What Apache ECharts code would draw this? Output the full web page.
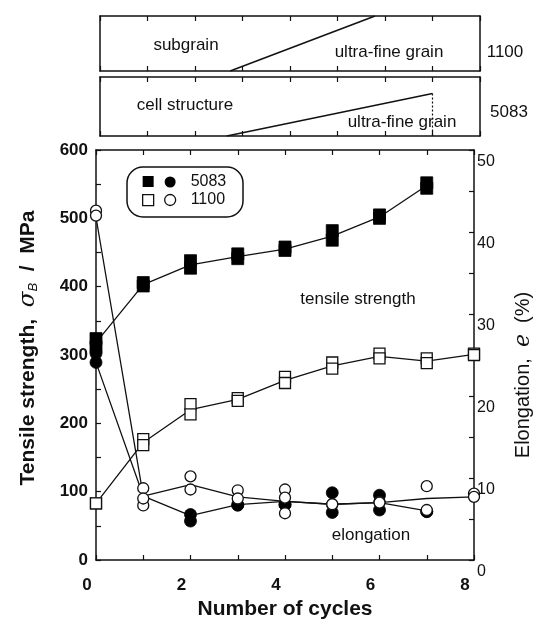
<!DOCTYPE html>
<html><head><meta charset="utf-8">
<script src="https://cdn.jsdelivr.net/npm/echarts@6/dist/echarts.min.js"></script>
<style>html,body{margin:0;padding:0;background:#fff}#c{width:542px;height:626px}</style>
</head><body><div id="c"></div>
<script>
// ---- data ----
const cycles1100 = [0, 1, 2, 3, 4, 5, 6, 7, 8];
const cycles5083 = [0, 1, 2, 3, 4, 5, 6, 7];
// tensile strength, MPa (line = drawn curve, A/B = the two specimens)
const ts5083Line = [318, 403, 432, 444, 455, 474, 502, 548];
const ts5083A = [324, 406, 438, 448, 458, 482, 505, 552];
const ts5083B = [312, 401, 427, 441, 453, 468, 500, 544];
const ts1100Line = [83, 172, 220, 235, 263, 284, 298, 291, 301];
const ts1100A = [83, 177, 228, 237, 268, 289, 302, 295, 302];
const ts1100B = [83, 168, 213, 233, 259, 280, 295, 288, 300];
// elongation, %
const el5083Line = [24.1, 7.8, 5.4, 6.75, 7.15, 6.8, 7.0, 6.0];
const el5083A = [24.1, null, 5.55, 6.7, 6.75, 8.2, 7.9, 5.9];
const el5083B = [25.2, null, 4.75, 6.7, 6.75, 5.8, 6.1, 5.9];
const el1100Line = [41.8, 7.8, 9.2, 7.7, 7.15, 6.8, 7.0, 7.5, 7.7];
const el1100A = [42.6, 8.75, 10.2, 8.5, 8.6, 6.8, 7.1, 9.0, 8.1];
const el1100B = [42.0, 6.65, 8.6, 7.5, 7.6, 6.8, 7.0, 6.1, 7.7];
const el1100C = [null, 7.5, null, null, 5.7, null, null, null, null];
// microstructure transition (top panels), x = cycles, y = fraction of panel height
const trans1100X = [2.74, 5.79];
const trans1100Y = [0, 1];
const trans5083X = [2.67, 7.0];
const trans5083Y = [0, 0.72];
const bound5083X = [7.0, 7.0];
const bound5083Y = [0.72, 0];
// tick labels
const xTickLabels = [0, 2, 4, 6, 8];
const leftTickLabels = [0, 100, 200, 300, 400, 500, 600];
const rightTickLabels = [0, 10, 20, 30, 40, 50];

// ---- chart ----
const FONT = '"Liberation Sans", Arial, Helvetica, sans-serif';
const INK = '#111';
const FILL = '#000';
const pairs = (xs, ys) => xs.map((x, i) => (ys[i] == null ? null : [x, ys[i]])).filter(Boolean);

function lineS(name, xs, ys, yIdx) {
  return { name, type: 'line', xAxisIndex: 0, yAxisIndex: yIdx, data: pairs(xs, ys),
    symbol: 'none', lineStyle: { color: INK, width: 1.3, opacity: 1 }, itemStyle: { color: INK }, z: 2, silent: true };
}
function markS(name, xs, ys, yIdx, symbol, filled, size, z) {
  return { name, type: 'scatter', xAxisIndex: 0, yAxisIndex: yIdx, data: pairs(xs, ys),
    symbol, symbolSize: size, z,
    itemStyle: filled ? { color: FILL, borderColor: FILL, borderWidth: 0.8, opacity: 1 }
                      : { color: '#fff', borderColor: INK, borderWidth: 1.3, opacity: 1 },
    emphasis: { disabled: true }, silent: true };
}
function panelLine(xs, ys, xIdx, yIdx, dashed) {
  return { type: 'line', xAxisIndex: xIdx, yAxisIndex: yIdx, data: pairs(xs, ys), symbol: 'none',
    lineStyle: { color: INK, width: dashed ? 1.2 : 1.5, type: dashed ? [2, 2] : 'solid' }, silent: true };
}

const tickOnly = (pos, gridIndex) => ({
  type: 'value', gridIndex, position: pos, min: 0, max: 8, interval: 1,
  axisLine: { show: true, onZero: false, lineStyle: { color: INK, width: 1.5 } },
  axisTick: { show: true, inside: true, length: 5, lineStyle: { color: INK, width: 1.2 } },
  axisLabel: { show: false }, splitLine: { show: false }
});
const edgeY = (pos, gridIndex) => ({
  type: 'value', gridIndex, position: pos, min: 0, max: 1,
  axisLine: { show: true, onZero: false, lineStyle: { color: INK, width: 1.5 } },
  axisTick: { show: false }, axisLabel: { show: false }, splitLine: { show: false }
});

const option = {
  animation: false,
  backgroundColor: '#fff',
  textStyle: { fontFamily: FONT },
  grid: [
    { left: 96, right: 64, top: 150, bottom: 66 },
    { left: 100, right: 62, top: 16, height: 55 },
    { left: 100, right: 62, top: 77, height: 59 }
  ],
  xAxis: [
    { type: 'value', gridIndex: 0, position: 'bottom', min: 0, max: 8, interval: 1,
      name: 'Number of cycles', nameLocation: 'middle', nameGap: 36,
      nameTextStyle: { fontSize: 21, fontWeight: 'bold', color: INK, fontFamily: FONT },
      axisLine: { show: true, onZero: false, lineStyle: { color: INK, width: 1.5 } },
      axisTick: { show: true, inside: true, length: 5, lineStyle: { color: INK, width: 1.2 } },
      axisLabel: { fontSize: 17, fontWeight: 'bold', color: INK, margin: 17, padding: [0, 18, 0, 0],
        formatter: v => (xTickLabels.includes(v) ? String(v) : '') },
      splitLine: { show: false } },
    tickOnly('top', 0),
    tickOnly('bottom', 1), tickOnly('top', 1),
    tickOnly('bottom', 2), tickOnly('top', 2)
  ],
  yAxis: [
    { type: 'value', gridIndex: 0, position: 'left', min: 0, max: 600, interval: 50,
      name: '{n|Tensile strength,  }{i|σ}{s|B}{n|  /  MPa}', nameLocation: 'middle', nameGap: 56, nameRotate: 90,
      nameTextStyle: { color: INK, padding: [0, 0, 0, 14], rich: {
        n: { fontSize: 21, fontWeight: 'bold', fontFamily: FONT, color: INK },
        i: { fontSize: 23, fontStyle: 'italic', fontFamily: '"DejaVu Serif", serif', color: INK },
        s: { fontSize: 13, fontStyle: 'italic', fontFamily: FONT, color: INK, padding: [9, 0, 0, 0] } } },
      axisLine: { show: true, onZero: false, lineStyle: { color: INK, width: 1.5 } },
      axisTick: { show: true, inside: true, length: 5, lineStyle: { color: INK, width: 1.2 } },
      axisLabel: { fontSize: 17, fontWeight: 'bold', color: INK, margin: 8, padding: [10, 0, 0, 0],
        formatter: v => (leftTickLabels.includes(v) ? String(v) : '') },
      splitLine: { show: false } },
    { type: 'value', gridIndex: 0, position: 'right', min: 0, max: 50, interval: 5,
      name: '{n|Elongation,  }{i|e}{n|  (%)}', nameLocation: 'middle', nameGap: 38, nameRotate: 90,
      nameTextStyle: { color: INK, padding: [0, 40, 0, 0], rich: {
        n: { fontSize: 20, fontFamily: FONT, color: INK },
        i: { fontSize: 22, fontStyle: 'italic', fontFamily: '"DejaVu Serif", serif', color: INK } } },
      axisLine: { show: true, onZero: false, lineStyle: { color: INK, width: 1.5 } },
      axisTick: { show: true, inside: true, length: 5, lineStyle: { color: INK, width: 1.2 } },
      axisLabel: { fontSize: 16, color: INK, margin: 3, verticalAlign: 'top', padding: [4, 0, 0, 0],
        formatter: v => (rightTickLabels.includes(v) ? String(v) : '') },
      splitLine: { show: false } },
    edgeY('left', 1), edgeY('right', 1),
    edgeY('left', 2), edgeY('right', 2)
  ],
  legend: [
    { data: [
        { name: '5083 tensile', icon: 'rect', itemStyle: { color: FILL, borderColor: FILL, borderWidth: 0, opacity: 1 } },
        { name: '1100 tensile', icon: 'rect', itemStyle: { color: '#fff', borderColor: INK, borderWidth: 1.3, opacity: 1 } }
      ],
      orient: 'vertical', left: 142, top: 176, itemWidth: 11, itemHeight: 11, itemGap: 7, padding: 0,
      selectedMode: false, formatter: () => '', textStyle: { fontSize: 11 } },
    { data: [
        { name: '5083 elongation', icon: 'circle', itemStyle: { color: FILL, borderColor: FILL, borderWidth: 0, opacity: 1 } },
        { name: '1100 elongation', icon: 'circle', itemStyle: { color: '#fff', borderColor: INK, borderWidth: 1.3, opacity: 1 } }
      ],
      orient: 'vertical', left: 164, top: 174, itemWidth: 11, itemHeight: 11, itemGap: 2, padding: 0,
      selectedMode: false, formatter: n => n.split(' ')[0],
      textStyle: { fontSize: 16, color: INK, fontFamily: FONT, padding: [0, 0, 0, 10] } }
  ],
  graphic: [
    { type: 'rect', shape: { x: 127, y: 167, width: 116, height: 50, r: 16 },
      style: { fill: 'none', stroke: INK, lineWidth: 1.5 }, silent: true },
    { type: 'text', x: 358, y: 299, style: { text: 'tensile strength', font: '17px ' + FONT, fill: INK, align: 'center', verticalAlign: 'middle' } },
    { type: 'text', x: 371, y: 535, style: { text: 'elongation', font: '17px ' + FONT, fill: INK, align: 'center', verticalAlign: 'middle' } },
    { type: 'text', x: 186, y: 45, style: { text: 'subgrain', font: '17px ' + FONT, fill: INK, align: 'center', verticalAlign: 'middle' } },
    { type: 'text', x: 389, y: 52, style: { text: 'ultra-fine grain', font: '17px ' + FONT, fill: INK, align: 'center', verticalAlign: 'middle' } },
    { type: 'text', x: 505, y: 52, style: { text: '1100', font: '17px ' + FONT, fill: INK, align: 'center', verticalAlign: 'middle' } },
    { type: 'text', x: 185, y: 105, style: { text: 'cell structure', font: '17px ' + FONT, fill: INK, align: 'center', verticalAlign: 'middle' } },
    { type: 'text', x: 402, y: 122, style: { text: 'ultra-fine grain', font: '17px ' + FONT, fill: INK, align: 'center', verticalAlign: 'middle' } },
    { type: 'text', x: 509, y: 112, style: { text: '5083', font: '17px ' + FONT, fill: INK, align: 'center', verticalAlign: 'middle' } }
  ],
  series: [
    lineS('5083 tensile', cycles5083, ts5083Line, 0),
    lineS('1100 tensile', cycles1100, ts1100Line, 0),
    lineS('5083 elongation', cycles5083, el5083Line, 1),
    lineS('1100 elongation', cycles1100, el1100Line, 1),
    markS('5083 elongation', cycles5083, el5083A, 1, 'circle', true, 12, 3),
    markS('5083 elongation', cycles5083, el5083B, 1, 'circle', true, 12, 3),
    markS('5083 tensile', cycles5083, ts5083A, 0, 'rect', true, 12, 4),
    markS('5083 tensile', cycles5083, ts5083B, 0, 'rect', true, 12, 4),
    markS('1100 tensile', cycles1100, ts1100A, 0, 'rect', false, 11, 5),
    markS('1100 tensile', cycles1100, ts1100B, 0, 'rect', false, 11, 5),
    markS('1100 elongation', cycles1100, el1100A, 1, 'circle', false, 11, 6),
    markS('1100 elongation', cycles1100, el1100B, 1, 'circle', false, 11, 6),
    markS('1100 elongation', cycles1100, el1100C, 1, 'circle', false, 11, 6),
    panelLine(trans1100X, trans1100Y, 2, 2, false),
    panelLine(trans5083X, trans5083Y, 4, 4, false),
    panelLine(bound5083X, bound5083Y, 4, 4, true)
  ]
};
const chart = echarts.init(document.getElementById('c'), null, { renderer: 'canvas' });
chart.setOption(option);
</script>
</body></html>
